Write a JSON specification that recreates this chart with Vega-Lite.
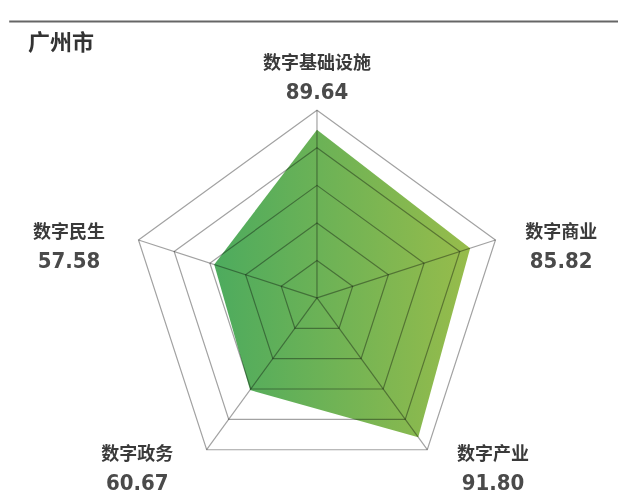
{
  "$schema": "https://vega.github.io/schema/vega-lite/v6.json",
  "autosize": {"type": "fit", "contains": "padding"},
  "width": 619,
  "height": 495,
  "padding": 0,
  "background": "white",
  "config": {"view": {"stroke": null}},
  "datasets": {
    "scores": [
      {"k": 0, "name": "数字基础设施", "value": 89.64, "label": "89.64"},
      {"k": 1, "name": "数字商业", "value": 85.82, "label": "85.82"},
      {"k": 2, "name": "数字产业", "value": 91.80, "label": "91.80"},
      {"k": 3, "name": "数字政务", "value": 60.67, "label": "60.67"},
      {"k": 4, "name": "数字民生", "value": 57.58, "label": "57.58"}
    ],
    "rings": [
      {"level": 20, "k": [0, 1, 2, 3, 4]},
      {"level": 40, "k": [0, 1, 2, 3, 4]},
      {"level": 60, "k": [0, 1, 2, 3, 4]},
      {"level": 80, "k": [0, 1, 2, 3, 4]},
      {"level": 100, "k": [0, 1, 2, 3, 4]}
    ],
    "header": [{"city": "广州市"}]
  },
  "layer": [
    {
      "data": {"name": "header"},
      "mark": {"type": "rule", "color": "#666666", "strokeWidth": 2},
      "encoding": {
        "x": {"datum": -164, "type": "quantitative", "scale": {"domain": [-168.9, 160.4], "nice": false, "zero": false}, "axis": null},
        "x2": {"datum": 160.4},
        "y": {"datum": 147.3, "type": "quantitative", "scale": {"domain": [-104.5, 158.8], "nice": false, "zero": false}, "axis": null}
      }
    },
    {
      "data": {"name": "header"},
      "mark": {"type": "text", "align": "left", "baseline": "middle", "font": "Noto Sans CJK SC", "fontWeight": "bold", "fontSize": 22, "color": "#333333"},
      "encoding": {
        "x": {"datum": -154, "type": "quantitative", "scale": {"domain": [-168.9, 160.4], "nice": false, "zero": false}, "axis": null},
        "y": {"datum": 136, "type": "quantitative", "scale": {"domain": [-104.5, 158.8], "nice": false, "zero": false}, "axis": null},
        "text": {"field": "city"}
      }
    },
    {
      "data": {"name": "scores"},
      "transform": [
        {"calculate": "2 * PI * datum.k / 5", "as": "a"},
        {"calculate": "datum.value * sin(datum.a)", "as": "px"},
        {"calculate": "datum.value * cos(datum.a)", "as": "py"}
      ],
      "mark": {
        "type": "line",
        "interpolate": "linear-closed",
        "strokeWidth": 0,
        "fill": {"gradient": "linear", "x1": 0, "y1": 0, "x2": 1, "y2": 0, "stops": [{"offset": 0, "color": "#4dab5e"}, {"offset": 1, "color": "#97bc4b"}]}
      },
      "encoding": {
        "x": {"field": "px", "type": "quantitative", "scale": {"domain": [-168.9, 160.4], "nice": false, "zero": false}, "axis": null},
        "y": {"field": "py", "type": "quantitative", "scale": {"domain": [-104.5, 158.8], "nice": false, "zero": false}, "axis": null},
        "order": {"field": "k"}
      }
    },
    {
      "data": {"name": "rings"},
      "transform": [
        {"flatten": ["k"]},
        {"calculate": "2 * PI * datum.k / 5", "as": "a"},
        {"calculate": "datum.level * sin(datum.a)", "as": "px"},
        {"calculate": "datum.level * cos(datum.a)", "as": "py"}
      ],
      "mark": {"type": "line", "interpolate": "linear-closed", "color": "#a2a2a2", "strokeWidth": 1.2, "blend": "multiply"},
      "encoding": {
        "x": {"field": "px", "type": "quantitative", "scale": {"domain": [-168.9, 160.4], "nice": false, "zero": false}, "axis": null},
        "y": {"field": "py", "type": "quantitative", "scale": {"domain": [-104.5, 158.8], "nice": false, "zero": false}, "axis": null},
        "detail": {"field": "level"},
        "order": {"field": "k"}
      }
    },
    {
      "data": {"name": "scores"},
      "transform": [
        {"calculate": "2 * PI * datum.k / 5", "as": "a"},
        {"calculate": "100 * sin(datum.a)", "as": "px"},
        {"calculate": "100 * cos(datum.a)", "as": "py"}
      ],
      "mark": {"type": "rule", "color": "#a2a2a2", "strokeWidth": 1.2, "blend": "multiply"},
      "encoding": {
        "x": {"field": "px", "type": "quantitative", "scale": {"domain": [-168.9, 160.4], "nice": false, "zero": false}, "axis": null},
        "y": {"field": "py", "type": "quantitative", "scale": {"domain": [-104.5, 158.8], "nice": false, "zero": false}, "axis": null},
        "x2": {"datum": 0},
        "y2": {"datum": 0}
      }
    },
    {
      "data": {"name": "scores"},
      "transform": [
        {"calculate": "2 * PI * datum.k / 5", "as": "a"},
        {"calculate": "100 * sin(datum.a) + (sin(datum.a) > 0.01 ? 35 : (sin(datum.a) < -0.01 ? -37 : 0))", "as": "px"},
        {"calculate": "100 * cos(datum.a) + (datum.k == 0 ? 18 : (datum.k == 1 || datum.k == 4 ? -3 : -10))", "as": "py"}
      ],
      "layer": [
        {
          "mark": {"type": "text", "align": "center", "baseline": "middle", "dy": -13, "font": "Noto Sans CJK SC", "fontWeight": "bold", "fontSize": 18, "color": "#3a3a3a"},
          "encoding": {"text": {"field": "name"}}
        },
        {
          "mark": {"type": "text", "align": "center", "baseline": "middle", "dy": 15, "font": "'DejaVu Sans Condensed', 'Liberation Sans Narrow', sans-serif", "fontWeight": "bold", "fontSize": 22, "color": "#4a4a4a"},
          "encoding": {"text": {"field": "label"}}
        }
      ],
      "encoding": {
        "x": {"field": "px", "type": "quantitative", "scale": {"domain": [-168.9, 160.4], "nice": false, "zero": false}, "axis": null},
        "y": {"field": "py", "type": "quantitative", "scale": {"domain": [-104.5, 158.8], "nice": false, "zero": false}, "axis": null}
      }
    }
  ]
}
